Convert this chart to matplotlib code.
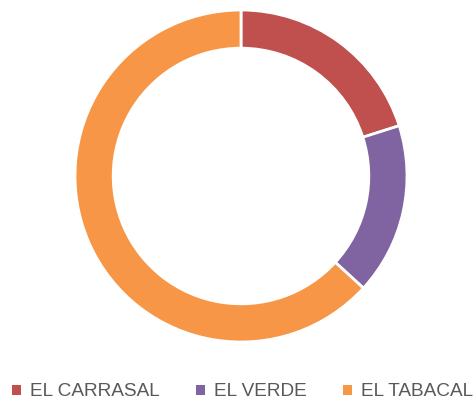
import matplotlib
matplotlib.use("Agg")
import matplotlib.pyplot as plt
from matplotlib.patches import Patch

labels = ["EL CARRASAL", "EL VERDE", "EL TABACAL"]
values = [20.1, 16.7, 63.2]
colors = ["#C0504D", "#8064A2", "#F79646"]

W, H = 477, 407
fig = plt.figure(figsize=(W / 100, H / 100), dpi=100)
cx, cy, r = 241, 176, 166
ax = fig.add_axes([(cx - r) / W, (H - cy - r) / H, 2 * r / W, 2 * r / H])
ax.pie(values, colors=colors, startangle=90, counterclock=False, radius=1,
       wedgeprops=dict(width=0.23, edgecolor="white", linewidth=2))
ax.set_xlim(-1, 1)
ax.set_ylim(-1, 1)
ax.set_aspect("equal")
ax.axis("off")

handles = [Patch(facecolor=c, edgecolor="none") for c in colors]
fig.legend(handles, labels, loc="center", bbox_to_anchor=(243 / W, 15 / H), ncol=3,
           frameon=False, handlelength=0.45, handleheight=0.45, handletextpad=0.5,
           columnspacing=1.9, prop=dict(family="Liberation Sans", size=13.7),
           labelcolor="#595959")

fig.savefig("out.png", dpi=100, facecolor="white")
